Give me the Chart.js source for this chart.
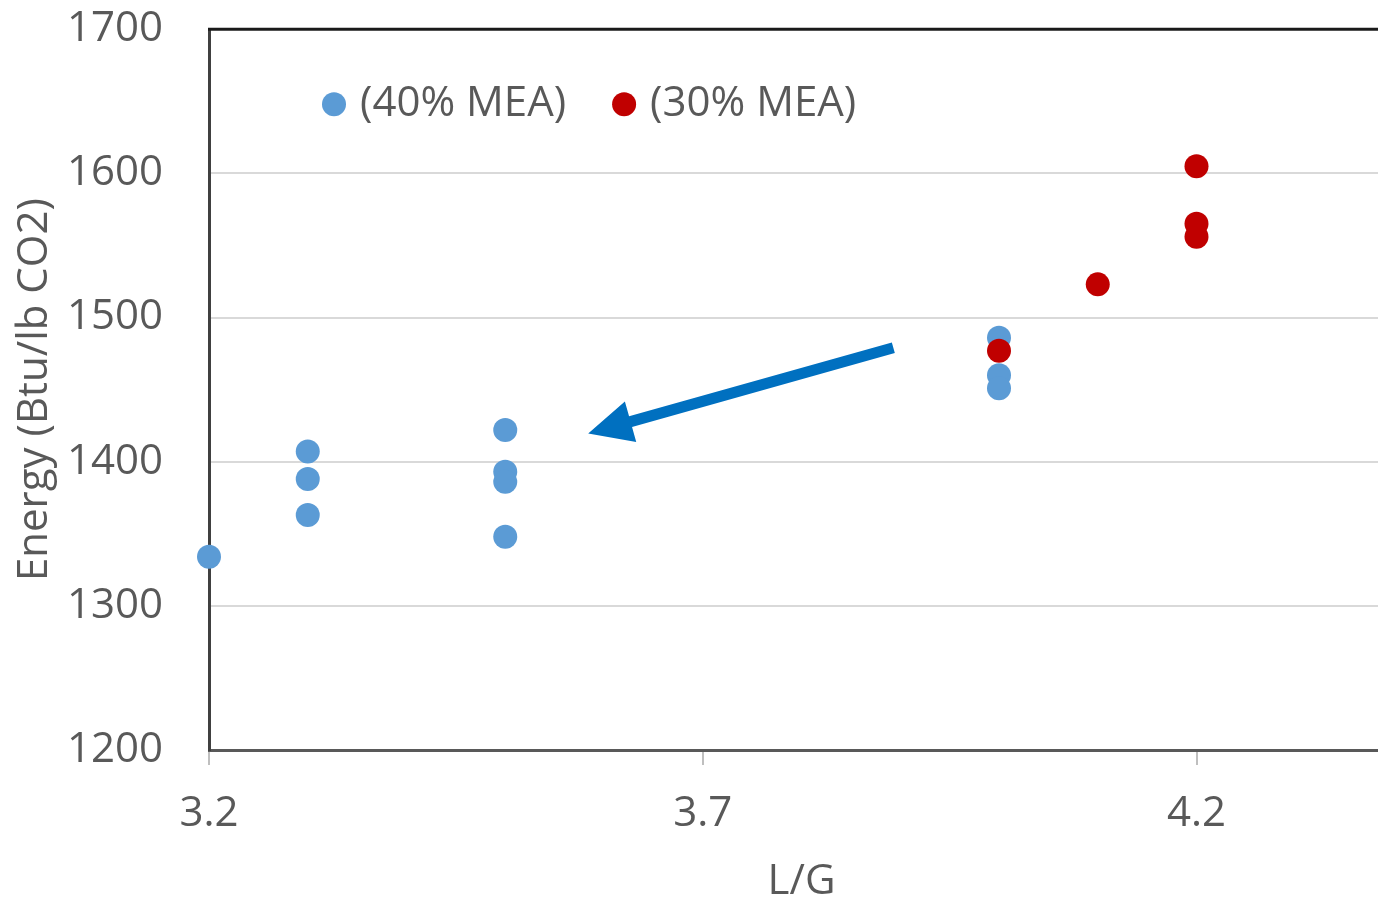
<!DOCTYPE html>
<html>
<head>
<meta charset="utf-8">
<script src="https://cdn.jsdelivr.net/npm/chart.js@4/dist/chart.umd.min.js"></script>
<style>
  html, body { margin: 0; padding: 0; background: #ffffff; overflow: hidden; }
  #wrap { position: relative; width: 1378px; height: 898px; overflow: hidden; }
  #c { position: absolute; left: 0; top: -42px; }
</style>
</head>
<body>
<div id="wrap"><canvas id="c" width="1406" height="945"></canvas></div>
<script>
// Liquid-to-gas ratio vs. regeneration energy
const mea40LG     = [3.2,  3.3,  3.3,  3.3,  3.5,  3.5,  3.5,  3.5,  4.0,  4.0,  4.0];
const mea40Energy = [1334, 1407, 1388, 1363, 1422, 1393, 1386, 1348, 1486, 1460, 1451];
const mea30LG     = [4.0,  4.1,  4.2,  4.2,  4.2];
const mea30Energy = [1477, 1523, 1605, 1565, 1556];
const seriesLabels = ['(40% MEA)', '(30% MEA)'];
const xTicks = [3.2, 3.7, 4.2];
const yTicks = [1200, 1300, 1400, 1500, 1600, 1700];
// arrow from [L/G, energy] to [L/G, energy]
const arrowFrom = [3.893, 1479];
const arrowTo   = [3.584, 1419.5];

const FONT = '"Open Sans", "Liberation Sans", sans-serif';
const TEXT = '#595959';
const BLUE = '#5B9BD5';
const RED  = '#C00000';

const toPts = (xs, ys) => xs.map((x, i) => ({ x: x, y: ys[i] }));

const framePlugin = {
  id: 'frame',
  afterDatasetsDraw(chart) {
    const { ctx, chartArea: a, scales } = chart;
    ctx.save();
    // top frame line
    ctx.strokeStyle = '#1a1a1a';
    ctx.lineWidth = 3;
    ctx.beginPath();
    ctx.moveTo(a.left - 1, a.top);
    ctx.lineTo(a.right, a.top);
    ctx.stroke();

    // arrow
    const x0 = scales.x.getPixelForValue(arrowFrom[0]);
    const y0 = scales.y.getPixelForValue(arrowFrom[1]);
    const x1 = scales.x.getPixelForValue(arrowTo[0]);
    const y1 = scales.y.getPixelForValue(arrowTo[1]);
    const ang = Math.atan2(y1 - y0, x1 - x0);
    const headLen = 44, headHalf = 21, shaft = 11;
    const bx = x1 - headLen * Math.cos(ang), by = y1 - headLen * Math.sin(ang);
    const nx = -Math.sin(ang), ny = Math.cos(ang);
    ctx.fillStyle = '#0070C0';
    ctx.beginPath();
    ctx.moveTo(x0 + nx * shaft / 2, y0 + ny * shaft / 2);
    ctx.lineTo(bx + nx * shaft / 2, by + ny * shaft / 2);
    ctx.lineTo(bx + nx * headHalf, by + ny * headHalf);
    ctx.lineTo(x1, y1);
    ctx.lineTo(bx - nx * headHalf, by - ny * headHalf);
    ctx.lineTo(bx - nx * shaft / 2, by - ny * shaft / 2);
    ctx.lineTo(x0 - nx * shaft / 2, y0 - ny * shaft / 2);
    ctx.closePath();
    ctx.fill();

    // legend inside the plot area
    ctx.font = '42px ' + FONT;
    ctx.textBaseline = 'middle';
    ctx.textAlign = 'left';
    let lx = a.left + 125;
    const ly = a.top + 75;
    const order = [1, 0];
    order.forEach(idx => {
      const ds = chart.data.datasets[idx];
      ctx.fillStyle = ds.backgroundColor;
      ctx.beginPath();
      ctx.arc(lx, ly, 12, 0, Math.PI * 2);
      ctx.fill();
      ctx.fillStyle = TEXT;
      ctx.fillText(ds.label, lx + 26, ly);
      lx += 26 + ctx.measureText(ds.label).width + 58;
    });
    ctx.restore();
  }
};

new Chart(document.getElementById('c'), {
  type: 'scatter',
  data: {
    datasets: [
      { label: seriesLabels[1], data: toPts(mea30LG, mea30Energy), backgroundColor: RED, borderWidth: 0, pointRadius: 12, pointHoverRadius: 12, order: 0, clip: false },
      { label: seriesLabels[0], data: toPts(mea40LG, mea40Energy), backgroundColor: BLUE, borderWidth: 0, pointRadius: 12, pointHoverRadius: 12, order: 1, clip: false }
    ]
  },
  options: {
    responsive: false,
    animation: false,
    events: [],
    layout: { padding: 0 },
    plugins: { legend: { display: false }, tooltip: { enabled: false } },
    scales: {
      x: {
        type: 'linear',
        min: 3.2,
        max: 4.4,
        afterBuildTicks: s => { s.ticks = xTicks.map(v => ({ value: v })); },
        afterFit: s => { s.height = 153; },
        grid: { drawOnChartArea: false, drawTicks: true, tickLength: 15, color: '#BFBFBF', lineWidth: 2 },
        border: { color: '#595959', width: 3 },
        ticks: { color: TEXT, font: { family: FONT, size: 42 }, padding: 24, maxRotation: 0, callback: v => v.toFixed(1) },
        title: { display: true, text: 'L/G', color: TEXT, font: { family: FONT, size: 42, lineHeight: 1 }, padding: { top: 0, bottom: 0 } }
      },
      y: {
        min: 1200,
        max: 1700,
        afterBuildTicks: s => { s.ticks = yTicks.map(v => ({ value: v })); },
        afterFit: s => { s.width = 209; },
        grid: {
          drawTicks: false,
          color: ctx => (ctx.tick && (ctx.tick.value === 1200 || ctx.tick.value === 1700)) ? 'rgba(0,0,0,0)' : '#D9D9D9',
          lineWidth: 2
        },
        border: { color: '#404040', width: 3 },
        ticks: { color: TEXT, font: { family: FONT, size: 42 }, padding: 46, callback: v => String(v) },
        title: { display: true, text: 'Energy (Btu/lb CO2)', color: TEXT, font: { family: FONT, size: 42, lineHeight: 1 }, padding: { top: 14, bottom: 0 } }
      }
    }
  },
  plugins: [framePlugin]
});
</script>
</body>
</html>
